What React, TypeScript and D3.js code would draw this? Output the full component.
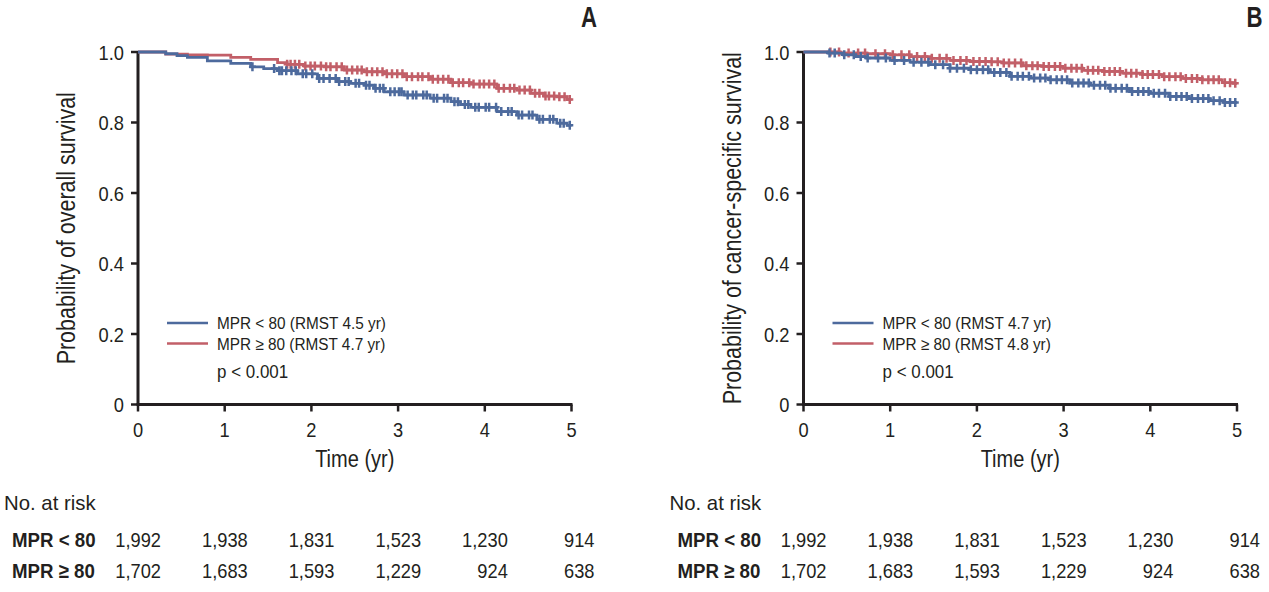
import React, { useEffect } from 'react';
import * as d3 from 'd3';

// ---- data ----
const timeTicks = [0, 1, 2, 3, 4, 5];
const survTicks = [0, 0.2, 0.4, 0.6, 0.8, 1.0];
const survTickLabels = ['0', '0.2', '0.4', '0.6', '0.8', '1.0'];

const riskLow = ['1,992', '1,938', '1,831', '1,523', '1,230', '914'];
const riskHigh = ['1,702', '1,683', '1,593', '1,229', '924', '638'];

// overall survival (panel A): [time, survival]
const osLow: [number, number][] = [
  [0, 1], [0.32, 0.995], [0.45, 0.99], [0.57, 0.985], [0.8, 0.975], [1.07, 0.968], [1.3, 0.958],
  [1.45, 0.953], [1.61, 0.947], [1.84, 0.938], [2.07, 0.925], [2.3, 0.916], [2.45, 0.911],
  [2.61, 0.906], [2.72, 0.897], [2.84, 0.887], [3.07, 0.878], [3.37, 0.869], [3.61, 0.859],
  [3.72, 0.851], [3.84, 0.843], [4.14, 0.831], [4.37, 0.821], [4.6, 0.809], [4.83, 0.798],
  [4.95, 0.792], [5, 0.792],
];
const osHigh: [number, number][] = [
  [0, 1], [0.32, 0.994], [0.57, 0.992], [0.8, 0.991], [1.07, 0.985], [1.3, 0.979], [1.61, 0.97],
  [1.72, 0.965], [1.92, 0.96], [2.15, 0.958], [2.38, 0.949], [2.61, 0.944], [2.84, 0.938],
  [3.07, 0.93], [3.37, 0.923], [3.61, 0.913], [3.84, 0.909], [4.14, 0.897], [4.37, 0.892],
  [4.53, 0.883], [4.68, 0.875], [4.83, 0.873], [4.95, 0.865], [5, 0.865],
];
const osLowCens = [
  1.32, 1.57, 1.63, 1.66, 1.71, 1.77, 1.82, 1.9, 1.94, 2.01, 2.09, 2.14, 2.21, 2.28, 2.32, 2.39,
  2.43, 2.51, 2.55, 2.63, 2.67, 2.74, 2.79, 2.83, 2.91, 2.96, 3.01, 3.04, 3.11, 3.17, 3.21, 3.29,
  3.33, 3.41, 3.45, 3.53, 3.57, 3.65, 3.69, 3.77, 3.81, 3.89, 3.93, 4.01, 4.05, 4.13, 4.19, 4.27,
  4.31, 4.39, 4.43, 4.51, 4.55, 4.63, 4.67, 4.75, 4.79, 4.87, 4.91, 4.98,
];
const osHighCens = [
  1.72, 1.76, 1.81, 1.86, 1.93, 1.99, 2.04, 2.11, 2.17, 2.22, 2.29, 2.35, 2.41, 2.47, 2.53,
  2.58, 2.64, 2.7, 2.76, 2.82, 2.87, 2.93, 2.99, 3.05, 3.1, 3.16, 3.23, 3.28, 3.35, 3.4, 3.46,
  3.52, 3.58, 3.63, 3.7, 3.75, 3.82, 3.87, 3.94, 3.99, 4.05, 4.11, 4.16, 4.22, 4.29, 4.34, 4.4,
  4.46, 4.52, 4.58, 4.63, 4.7, 4.74, 4.8, 4.86, 4.92, 4.98,
];

// cancer-specific survival (panel B)
const cssLow: [number, number][] = [
  [0, 1], [0.29, 0.997], [0.46, 0.992], [0.6, 0.987], [0.73, 0.983], [1.0, 0.976], [1.23, 0.971],
  [1.46, 0.964], [1.69, 0.954], [1.92, 0.95], [2.15, 0.942], [2.38, 0.931], [2.61, 0.926],
  [2.84, 0.921], [3.07, 0.912], [3.3, 0.906], [3.53, 0.897], [3.76, 0.888], [3.99, 0.883],
  [4.22, 0.874], [4.45, 0.868], [4.68, 0.862], [4.85, 0.857], [5, 0.857],
];
const cssHigh: [number, number][] = [
  [0, 1], [0.42, 0.997], [0.73, 0.995], [1.0, 0.992], [1.23, 0.987], [1.46, 0.982], [1.69, 0.976],
  [1.92, 0.973], [2.15, 0.972], [2.3, 0.969], [2.53, 0.961], [2.76, 0.959], [2.99, 0.954],
  [3.22, 0.948], [3.45, 0.945], [3.68, 0.94], [3.91, 0.936], [4.14, 0.93], [4.37, 0.925],
  [4.6, 0.921], [4.83, 0.913], [4.95, 0.911], [5, 0.911],
];
const cssLowCens = [
  0.3, 0.36, 0.47, 0.58, 0.66, 0.74, 0.86, 0.95, 1.05, 1.16, 1.27, 1.36, 1.44, 1.52, 1.61, 1.69,
  1.77, 1.85, 1.93, 2.0, 2.07, 2.13, 2.2, 2.27, 2.34, 2.4, 2.47, 2.53, 2.6, 2.66, 2.73, 2.79, 2.85,
  2.92, 2.98, 3.04, 3.1, 3.17, 3.23, 3.29, 3.35, 3.42, 3.48, 3.54, 3.6, 3.67, 3.73, 3.79, 3.86,
  3.92, 3.98, 4.04, 4.1, 4.17, 4.23, 4.3, 4.36, 4.42, 4.48, 4.55, 4.61, 4.67, 4.73, 4.8, 4.86,
  4.92, 4.98,
];
const cssHighCens = [
  0.31, 0.41, 0.52, 0.63, 0.71, 0.83, 0.94, 1.03, 1.13, 1.22, 1.31, 1.4, 1.48, 1.57, 1.65, 1.73,
  1.81, 1.88, 1.96, 2.03, 2.1, 2.17, 2.24, 2.31, 2.37, 2.44, 2.51, 2.57, 2.64, 2.7, 2.77, 2.83,
  2.9, 2.96, 3.02, 3.09, 3.15, 3.21, 3.28, 3.34, 3.4, 3.47, 3.53, 3.59, 3.65, 3.72, 3.78, 3.84,
  3.91, 3.97, 4.03, 4.1, 4.16, 4.22, 4.29, 4.35, 4.41, 4.48, 4.54, 4.6, 4.67, 4.73, 4.79, 4.86,
  4.92, 4.98,
];

// ---- style ----
const W = 1269;
const H = 592;
const BLUE = '#4d6a9d';
const RED = '#c25f68';
const INK = '#231f20';
const FONT = "'Liberation Sans', Arial, sans-serif";

// condensed text: Liberation Sans squeezed horizontally
interface TProps {
  x: number;
  y: number;
  size: number;
  sx: number;
  anchor?: string;
  weight?: string;
  rotate?: boolean;
  children: React.ReactNode;
}
const T = ({ x, y, size, sx, anchor = 'start', weight = 'normal', rotate = false, children }: TProps) => (
  <text
    transform={`translate(${x},${y})${rotate ? ' rotate(-90)' : ''} scale(${sx},1)`}
    fontSize={size}
    fontWeight={weight}
    textAnchor={anchor}
  >
    {children}
  </text>
);

interface PanelProps {
  left: number;
  letter: string;
  title: string;
  low: [number, number][];
  high: [number, number][];
  lowCens: number[];
  highCens: number[];
  legendLow: string;
  legendHigh: string;
}

const Panel = (props: PanelProps) => {
  const { left, letter, title, low, high, lowCens, highCens, legendLow, legendHigh } = props;
  const x = d3.scaleLinear().domain([0, 5]).range([left, left + 433.5]);
  const y = d3.scaleLinear().domain([0, 1]).range([404.5, 52]);
  const line = d3.line<[number, number]>()
    .x((d) => x(d[0]))
    .y((d) => y(d[1]))
    .curve(d3.curveStepAfter);

  // survival value at a censoring time, from the step data
  const survAt = (data: [number, number][], t: number) => {
    const i = d3.bisector((d: [number, number]) => d[0]).right(data, t) - 1;
    return data[Math.max(0, i)][1];
  };

  const censPath = (data: [number, number][], times: number[]) => times
    .map((t) => {
      const cx = x(t);
      const cy = y(survAt(data, t));
      return `M${cx},${cy - 4.5}V${cy + 4.5}M${cx - 3.5},${cy}H${cx + 3.5}`;
    })
    .join('');

  const y0 = y(0);
  const x0 = x(0);

  return (
    <g fontFamily={FONT} fill={INK}>
      <T x={left + 451} y={27} size={30} sx={0.74} anchor="middle" weight="bold">{letter}</T>

      {/* y axis */}
      <line x1={x0} x2={x0} y1={y(1) - 1} y2={y0} stroke={INK} strokeWidth={3} />
      {survTicks.map((v, i) => (
        <g key={`y${v}`}>
          <line x1={x0 - 7} x2={x0} y1={y(v)} y2={y(v)} stroke={INK} strokeWidth={2.5} />
          <T x={x0 - 14} y={y(v) + 7.5} size={21} sx={0.87} anchor="end">{survTickLabels[i]}</T>
        </g>
      ))}
      <T x={x0 - 63} y={y(0.5)} size={25} sx={0.86} anchor="middle" rotate>{title}</T>

      {/* x axis */}
      <line x1={x0 - 1.5} x2={x(5) + 1} y1={y0} y2={y0} stroke={INK} strokeWidth={3} />
      {timeTicks.map((t) => (
        <g key={`x${t}`}>
          <line x1={x(t)} x2={x(t)} y1={y0} y2={y0 + 7} stroke={INK} strokeWidth={2.5} />
          <T x={x(t)} y={437} size={21} sx={0.87} anchor="middle">{t}</T>
        </g>
      ))}
      <T x={x(2.5)} y={467} size={23} sx={0.87} anchor="middle">Time (yr)</T>

      {/* curves */}
      <path d={line(high) || ''} fill="none" stroke={RED} strokeWidth={2.8} />
      <path d={censPath(high, highCens)} fill="none" stroke={RED} strokeWidth={2.5} />
      <path d={line(low) || ''} fill="none" stroke={BLUE} strokeWidth={2.8} />
      <path d={censPath(low, lowCens)} fill="none" stroke={BLUE} strokeWidth={2.5} />

      {/* legend */}
      <line x1={x0 + 29} x2={x0 + 70} y1={323} y2={323} stroke={BLUE} strokeWidth={2.5} />
      <line x1={x0 + 29} x2={x0 + 70} y1={343.5} y2={343.5} stroke={RED} strokeWidth={2.5} />
      <T x={x0 + 79} y={329} size={16.5} sx={0.93}>{legendLow}</T>
      <T x={x0 + 79} y={349.5} size={16.5} sx={0.93}>{legendHigh}</T>
      <T x={x0 + 79} y={378} size={17.5} sx={0.97}>p &lt; 0.001</T>

      {/* number at risk */}
      <T x={left - 134} y={510} size={21} sx={0.97}>No. at risk</T>
      <T x={left - 126} y={547} size={21} sx={0.89} weight="bold">MPR &lt; 80</T>
      <T x={left - 126} y={578} size={21} sx={0.89} weight="bold">MPR ≥ 80</T>
      {riskLow.map((v, i) => (
        <T key={`rl${i}`} x={x(timeTicks[i]) + 23} y={547} size={21} sx={0.87} anchor="end">{v}</T>
      ))}
      {riskHigh.map((v, i) => (
        <T key={`rh${i}`} x={x(timeTicks[i]) + 23} y={578} size={21} sx={0.87} anchor="end">{v}</T>
      ))}
    </g>
  );
};

const App = () => {
  useEffect(() => {
    document.body.style.margin = '0';
  }, []);

  return (
    <svg width={W} height={H} style={{ display: 'block', background: '#fff' }}>
      <Panel
        left={138}
        letter="A"
        title="Probability of overall survival"
        low={osLow}
        high={osHigh}
        lowCens={osLowCens}
        highCens={osHighCens}
        legendLow="MPR < 80 (RMST 4.5 yr)"
        legendHigh="MPR ≥ 80 (RMST 4.7 yr)"
      />
      <Panel
        left={803.5}
        letter="B"
        title="Probability of cancer-specific survival"
        low={cssLow}
        high={cssHigh}
        lowCens={cssLowCens}
        highCens={cssHighCens}
        legendLow="MPR < 80 (RMST 4.7 yr)"
        legendHigh="MPR ≥ 80 (RMST 4.8 yr)"
      />
    </svg>
  );
};

export default App;
